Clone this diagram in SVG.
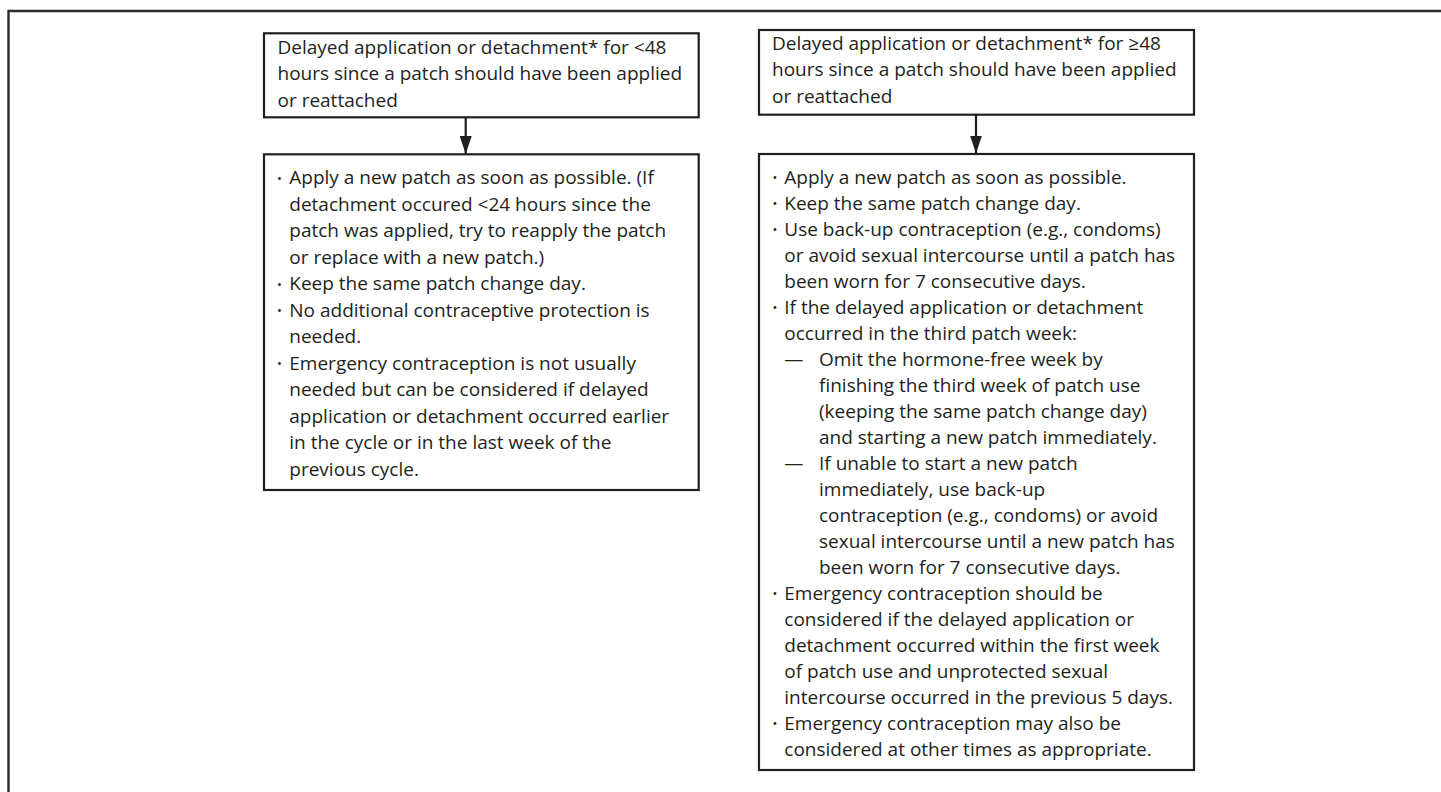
<svg xmlns="http://www.w3.org/2000/svg" width="1441" height="792" viewBox="0 0 1441 792">
<style>
  .box { fill: #ffffff; stroke: #231f20; stroke-width: 2.2; }
  .frame { fill: none; stroke: #2b2b2b; stroke-width: 2.4; }
  .t { font-family: "Open Sans", "Liberation Sans", sans-serif; font-size: 19px; fill: #231f20; }
  .b { font-family: "Open Sans", "Liberation Sans", sans-serif; font-size: 13px; fill: #231f20; }
  .conn { stroke: #231f20; stroke-width: 2.2; fill: none; }
</style>
<defs>
  <marker id="arrow" markerUnits="userSpaceOnUse" markerWidth="18" markerHeight="12" refX="18" refY="6" orient="auto" viewBox="0 0 18 12">
    <path d="M0,0 L18,6 L0,12 Z" fill="#231f20"/>
  </marker>
</defs>
<rect width="1441" height="792" fill="#ffffff"/>
<path class="frame" d="M8.5,792 V11 H1441"/>

<g id="connectors">
  <line class="conn" x1="465.7" y1="117.3" x2="465.7" y2="154" marker-end="url(#arrow)"/>
  <line class="conn" x1="976" y1="114.7" x2="976" y2="153.5" marker-end="url(#arrow)"/>
</g>

<g id="node-lt48">
  <rect class="box" x="264" y="33.3" width="434.7" height="84"/>
  <text class="t" x="277.5" y="54">Delayed application or detachment* for &lt;48</text>
  <text class="t" x="277.5" y="80.3">hours since a patch should have been applied</text>
  <text class="t" x="277.5" y="106.6">or reattached</text>
</g>

<g id="node-ge48">
  <rect class="box" x="759" y="30" width="435" height="84.7"/>
  <text class="t" x="772" y="50">Delayed application or detachment* for ≥48</text>
  <text class="t" x="772" y="76.3">hours since a patch should have been applied</text>
  <text class="t" x="772" y="102.6">or reattached</text>
</g>

<g id="node-lt48-actions">
  <rect class="box" x="264" y="154.3" width="434.7" height="335.7"/>
  <text class="b" x="277" y="182.5">•</text>
  <text class="t" x="289.3" y="184.2">Apply a new patch as soon as possible. (If</text>
  <text class="t" x="289.3" y="210.7">detachment occured &lt;24 hours since the</text>
  <text class="t" x="289.3" y="237.2">patch was applied, try to reapply the patch</text>
  <text class="t" x="289.3" y="263.7">or replace with a new patch.)</text>
  <text class="b" x="277" y="288.5">•</text>
  <text class="t" x="289.3" y="290.2">Keep the same patch change day.</text>
  <text class="b" x="277" y="315">•</text>
  <text class="t" x="289.3" y="316.7">No additional contraceptive protection is</text>
  <text class="t" x="289.3" y="343.2">needed.</text>
  <text class="b" x="277" y="368">•</text>
  <text class="t" x="289.3" y="369.7">Emergency contraception is not usually</text>
  <text class="t" x="289.3" y="396.2">needed but can be considered if delayed</text>
  <text class="t" x="289.3" y="422.7">application or detachment occurred earlier</text>
  <text class="t" x="289.3" y="449.2">in the cycle or in the last week of the</text>
  <text class="t" x="289.3" y="475.7">previous cycle.</text>
</g>

<g id="node-ge48-actions">
  <rect class="box" x="759" y="154" width="435" height="616"/>
  <text class="b" x="772.5" y="181.8">•</text>
  <text class="t" x="784.3" y="183.5">Apply a new patch as soon as possible.</text>
  <text class="b" x="772.5" y="207.8">•</text>
  <text class="t" x="784.3" y="209.5">Keep the same patch change day.</text>
  <text class="b" x="772.5" y="233.8">•</text>
  <text class="t" x="784.3" y="235.5">Use back-up contraception (e.g., condoms)</text>
  <text class="t" x="784.3" y="261.5">or avoid sexual intercourse until a patch has</text>
  <text class="t" x="784.3" y="287.5">been worn for 7 consecutive days.</text>
  <text class="b" x="772.5" y="311.8">•</text>
  <text class="t" x="784.3" y="313.5">If the delayed application or detachment</text>
  <text class="t" x="784.3" y="339.5">occurred in the third patch week:</text>
  <text class="t" x="784.3" y="365.5">—</text>
  <text class="t" x="819" y="365.5">Omit the hormone-free week by</text>
  <text class="t" x="819" y="391.5">finishing the third week of patch use</text>
  <text class="t" x="819" y="417.5">(keeping the same patch change day)</text>
  <text class="t" x="819" y="443.5">and starting a new patch immediately.</text>
  <text class="t" x="784.3" y="469.5">—</text>
  <text class="t" x="819" y="469.5">If unable to start a new patch</text>
  <text class="t" x="819" y="495.5">immediately, use back-up</text>
  <text class="t" x="819" y="521.5">contraception (e.g., condoms) or avoid</text>
  <text class="t" x="819" y="547.5">sexual intercourse until a new patch has</text>
  <text class="t" x="819" y="573.5">been worn for 7 consecutive days.</text>
  <text class="b" x="772.5" y="597.8">•</text>
  <text class="t" x="784.3" y="599.5">Emergency contraception should be</text>
  <text class="t" x="784.3" y="625.5">considered if the delayed application or</text>
  <text class="t" x="784.3" y="651.5">detachment occurred within the first week</text>
  <text class="t" x="784.3" y="677.5">of patch use and unprotected sexual</text>
  <text class="t" x="784.3" y="703.5">intercourse occurred in the previous 5 days.</text>
  <text class="b" x="772.5" y="727.8">•</text>
  <text class="t" x="784.3" y="729.5">Emergency contraception may also be</text>
  <text class="t" x="784.3" y="755.5">considered at other times as appropriate.</text>
</g>
</svg>
